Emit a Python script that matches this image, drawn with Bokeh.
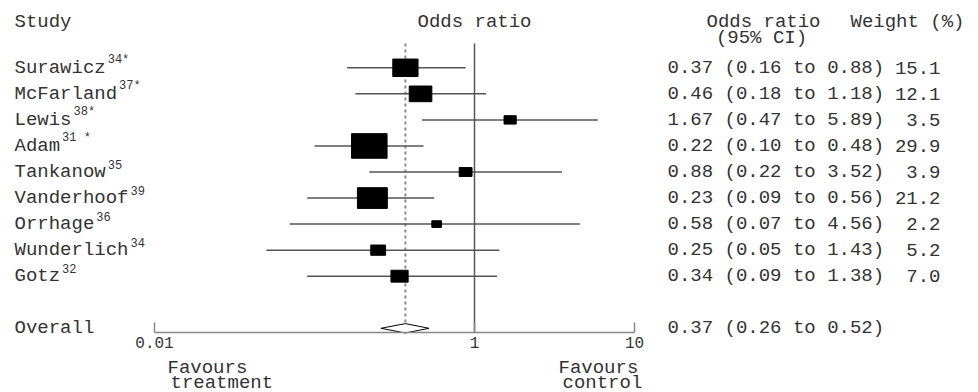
import numpy as np
from bokeh.plotting import figure
from bokeh.models import ColumnDataSource, Range1d, LinearScale, FixedTicker
from bokeh.core.properties import value
from bokeh.embed import file_html
from bokeh.resources import INLINE

# ---------------- data ----------------
studies = ["Surawicz", "McFarland", "Lewis", "Adam", "Tankanow",
           "Vanderhoof", "Orrhage", "Wunderlich", "Gotz"]
refs = ["34*", "37*", "38*", "31 *", "35", "39", "36", "34", "32"]
odds = [0.37, 0.46, 1.67, 0.22, 0.88, 0.23, 0.58, 0.25, 0.34]
ci_low = [0.16, 0.18, 0.47, 0.10, 0.22, 0.09, 0.07, 0.05, 0.09]
ci_high = [0.88, 1.18, 5.89, 0.48, 3.52, 0.56, 4.56, 1.43, 1.38]
weights = [15.1, 12.1, 3.5, 29.9, 3.9, 21.2, 2.2, 5.2, 7.0]
overall_label = "Overall"
overall_or = 0.37
overall_low = 0.26
overall_high = 0.52
tick_values = [0.01, 1, 10]
tick_labels = ["0.01", "1", "10"]

# ---------------- layout ----------------
W, H = 978, 392
PX_PER_DEC = 160.0
ONE_PX = 474.0          # canvas x of odds ratio 1
ROW0 = 67.3             # canvas y of first study row
ROW_H = 26.05
FONT = "Liberation Mono"
FS = "19px"
TXT = "#333333"
CHAR_W = 11.4

def row_of(ypx):
    return (ypx - ROW0) / ROW_H

x_start = 10 ** ((0 - ONE_PX) / PX_PER_DEC)
x_end = 10 ** ((W - ONE_PX) / PX_PER_DEC)
y_top = row_of(0)
y_bot = row_of(H)

p = figure(width=W, height=H, x_axis_type="log",
           x_range=Range1d(x_start, x_end), y_range=Range1d(y_bot, y_top),
           output_backend="svg", toolbar_location=None,
           min_border_left=0, min_border_right=0, min_border_top=0,
           min_border_bottom=0, y_axis_location=None)
p.outline_line_color = None
p.grid.visible = False
p.background_fill_color = "white"
p.border_fill_color = "white"
p.extra_x_ranges = {"px": Range1d(0, W)}
p.extra_x_scales = {"px": LinearScale()}

axis_row = row_of(332)
ax = p.xaxis[0]
ax.fixed_location = axis_row
ax.ticker = FixedTicker(ticks=tick_values)
ax.major_label_overrides = dict(zip(tick_values, tick_labels))
ax.bounds = (tick_values[0], tick_values[-1])
ax.minor_tick_line_color = None
ax.major_tick_in = 10
ax.major_tick_out = 0
ax.axis_line_color = "#888888"
ax.axis_line_width = 1.5
ax.major_tick_line_color = "#888888"
ax.major_tick_line_width = 1.5
ax.major_label_text_font = FONT
ax.major_label_text_font_size = "16px"
ax.major_label_text_color = TXT
ax.major_label_standoff = 4

rows = list(range(len(studies)))
overall_row = len(studies) + 1
sq = np.sqrt(np.array(weights))
src = ColumnDataSource(dict(
    row=rows,
    name=studies,
    sup=refs,
    sup_dx=[len(s) * CHAR_W + 2 for s in studies],
    orr=odds,
    lo=ci_low,
    hi=ci_high,
    ci_text=[f"{o:.2f} ({l:.2f} to {h:.2f})" for o, l, h in zip(odds, ci_low, ci_high)],
    w_text=[f"{w:.1f}" for w in weights],
    sq_w=list(6.5 * sq),
    sq_h=list(4.5 * sq),
))

line_top = row_of(43)
dh = 0.18

# dashed pooled-estimate line
p.segment(x0=[overall_or], x1=[overall_or], y0=[line_top], y1=[overall_row - dh],
          line_color="#8a8a8a", line_width=2, line_dash="3 3")
# line of no effect
p.segment(x0=[1], x1=[1], y0=[line_top], y1=[axis_row],
          line_color="#555555", line_width=1.5)
# confidence intervals
p.segment(x0="lo", x1="hi", y0="row", y1="row", source=src,
          line_color="#555555", line_width=1.5)
# weighted squares
p.rect(x="orr", y="row", width="sq_w", height="sq_h",
       width_units="screen", height_units="screen", source=src,
       fill_color="black", line_color="black")
# overall diamond
p.patch(x=[overall_low, overall_or, overall_high, overall_or],
        y=[overall_row, overall_row - dh, overall_row, overall_row + dh],
        fill_color="white", line_color="black", line_width=1)

tkw = dict(text_font=value(FONT), text_font_size=FS, text_color=TXT,
           text_baseline="middle")

# study names + superscripts
p.text(x=14, y="row", text="name", source=src, x_range_name="px", **tkw)
p.text(x=14, y="row", text="sup", source=src, x_range_name="px",
       x_offset="sup_dx", y_offset=-8, text_font=value(FONT),
       text_font_size="12px", text_color=TXT, text_baseline="middle")
# CI text and weights
p.text(x=667, y="row", text="ci_text", source=src, x_range_name="px", **tkw)
p.text(x=940, y="row", text="w_text", source=src, x_range_name="px",
       text_align="right", **tkw)

# overall row
p.text(x=[14], y=[overall_row], text=[overall_label], x_range_name="px", **tkw)
p.text(x=[667], y=[overall_row],
       text=[f"{overall_or:.2f} ({overall_low:.2f} to {overall_high:.2f})"],
       x_range_name="px", **tkw)

# headers
hdr = row_of(21)
p.text(x=[14], y=[hdr], text=["Study"], x_range_name="px", **tkw)
p.text(x=[1], y=[hdr], text=["Odds ratio"], text_align="center", **tkw)
p.text(x=[763], y=[hdr], text=["Odds ratio"], x_range_name="px",
       text_align="center", **tkw)
p.text(x=[761], y=[row_of(37)], text=["(95% CI)"], x_range_name="px",
       text_align="center", **tkw)
p.text(x=[850], y=[hdr], text=["Weight (%)"], x_range_name="px", **tkw)

# favours labels below the axis
p.text(x=[167, 170, 558, 562],
       y=[row_of(367), row_of(382), row_of(367), row_of(382)],
       text=["Favours", "treatment", "Favours", "control"],
       x_range_name="px", **tkw)

open("out.html", "w").write(file_html(p, INLINE))
